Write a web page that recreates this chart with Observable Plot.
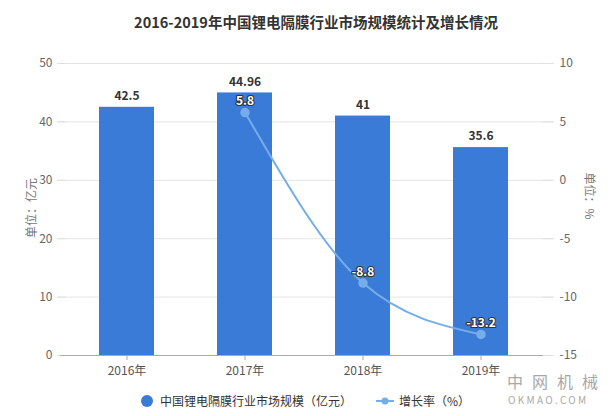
<!DOCTYPE html>
<html>
<head>
<meta charset="utf-8">
<script src="https://cdn.jsdelivr.net/npm/d3@7"></script>
<script src="https://cdn.jsdelivr.net/npm/@observablehq/plot@0.6"></script>
<style>
  body { margin: 0; background: #fff; font-family: "Noto Sans CJK SC", "Noto Sans", sans-serif; }
  #wrap { position: relative; width: 614px; height: 416px; background: #fff; overflow: hidden; }
  #title { height: 45px; line-height: 44px; text-align: center; padding-left: 18px; box-sizing: border-box;
           font-size: 14.5px; font-weight: bold; color: #333; }
  #legend { height: 31px; display: flex; align-items: center; justify-content: center; font-size: 12px; color: #333; padding-right: 4px; box-sizing: border-box; }
  .lg { display: flex; align-items: center; margin: 0 12px; }
  .ylab { position: absolute; font-size: 12px; color: #777; white-space: nowrap; }
  .wm1 { position: absolute; left: 507px; top: 373px; font-size: 16px; line-height: 16px; color: #a8a8a8; letter-spacing: 9px; }
  .wm2 { position: absolute; left: 508px; top: 394.5px; font-size: 10px; line-height: 10px; color: #a8a8a8; letter-spacing: 2.3px; }
</style>
</head>
<body>
<div id="wrap">
  <div id="title">2016-2019年中国锂电隔膜行业市场规模统计及增长情况</div>
  <div id="chart"></div>
  <div id="legend"></div>
  <div class="ylab" id="yl" style="left:30px; top:208px; transform: translate(-50%,-50%) rotate(-90deg);">单位：亿元</div>
  <div class="ylab" id="yr" style="left:590px; top:196px; transform: translate(-50%,-50%) rotate(90deg);">单位：%</div>
  <div class="wm1">中网机械</div>
  <div class="wm2">OKMAO.COM</div>
</div>
<script>
const years = ["2016年", "2017年", "2018年", "2019年"];
const marketSize = [42.5, 44.96, 41, 35.6];
const growthYears = ["2017年", "2018年", "2019年"];
const growthRate = [5.8, -8.8, -13.2];
const leftTicks = [0, 10, 20, 30, 40, 50];
const rightDomain = [-15, 10];

const barColor = "#3b7bd8";
const lineColor = "#74aeea";
const font = '"Noto Sans CJK SC", "Noto Sans", sans-serif';

const bars = years.map((y, i) => ({ year: y, value: marketSize[i] }));
const growth = growthYears.map((y, i) => ({ year: y, rate: growthRate[i] }));

// map right-axis values onto the left scale domain [0, 50]
const k = 50 / (rightDomain[1] - rightDomain[0]);
const toLeft = g => (g - rightDomain[0]) * k;
const fromLeft = v => v / k + rightDomain[0];

const chart = Plot.plot({
  width: 614,
  height: 340,
  marginTop: 18,
  marginBottom: 30,
  marginLeft: 66,
  marginRight: 73,
  style: { fontFamily: font, fontSize: "12px", color: "#666", background: "transparent" },
  x: { domain: years, paddingInner: 0.53, paddingOuter: 0.265, label: null },
  y: { domain: [0, 50], label: null },
  marks: [
    Plot.ruleY(leftTicks.filter(d => d > 0), { y: d => d, stroke: "#e4e4e4", insetLeft: -9, insetRight: -12 }),
    Plot.axisY({ ticks: leftTicks, tickSize: 9, tickPadding: 5, stroke: "#e0e0e0", fill: "#666", label: null }),
    Plot.axisY({ anchor: "right", ticks: leftTicks, tickFormat: d => String(fromLeft(d)), tickSize: 12, tickPadding: 6, stroke: "#e0e0e0", fill: "#666", label: null }),
    Plot.barY(bars, { x: "year", y: "value", fill: barColor }),
    Plot.ruleY([0], { stroke: "#aaa", insetLeft: -6, insetRight: -2 }),
    Plot.axisX({ tickSize: 5, tickPadding: 6, stroke: "#aaa", fill: "#555", label: null }),
    Plot.text(bars, { x: "year", y: "value", text: d => String(d.value), dy: -11, fill: "#333", fontWeight: "bold", fontSize: 12 }),
    Plot.line(growth, { x: "year", y: d => toLeft(d.rate), stroke: lineColor, strokeWidth: 2, curve: "monotone-x" }),
    Plot.dot(growth, { x: "year", y: d => toLeft(d.rate), r: 4, fill: lineColor, stroke: lineColor }),
    Plot.text(growth, { x: "year", y: d => toLeft(d.rate), text: d => String(d.rate), dy: -11, fill: "white", stroke: "#333", strokeWidth: 2.2, fontSize: 12, fontWeight: "bold" })
  ]
});
document.getElementById("chart").appendChild(chart);

// legend
const legend = document.getElementById("legend");
legend.innerHTML = `
  <div class="lg"><svg width="14" height="14"><circle cx="7" cy="7" r="6" fill="${barColor}"/></svg><span style="margin-left:6px">中国锂电隔膜行业市场规模（亿元）</span></div>
  <div class="lg"><svg width="18" height="10"><line x1="0" y1="5" x2="18" y2="5" stroke="${lineColor}" stroke-width="2"/><circle cx="9" cy="5" r="3.5" fill="${lineColor}"/></svg><span style="margin-left:5px">增长率（%）</span></div>
`;
</script>
</body>
</html>
